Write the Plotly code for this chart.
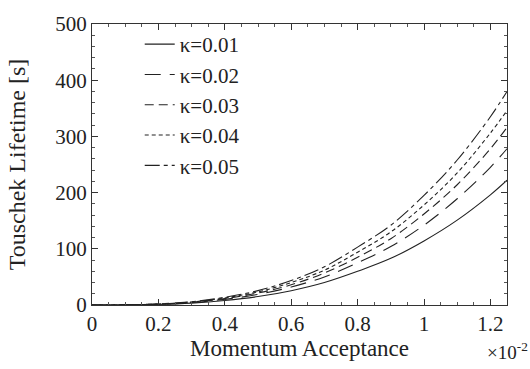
import plotly.graph_objects as go

x_vals = [0, 0.1, 0.2, 0.3, 0.4, 0.5, 0.6, 0.7, 0.8, 0.9, 1.0, 1.1, 1.2, 1.25]
k001 = [0, 0.2, 1.1, 3.4, 8.0, 15.0, 25.5, 40, 60, 83, 114, 151, 196, 222]
k002 = [0, 0.25, 1.4, 4.3, 10.0, 18.8, 32, 50, 75, 104, 142, 189, 245, 278]
k003 = [0, 0.3, 1.6, 4.8, 11.4, 21.3, 36, 57, 85, 118, 162, 214, 278, 316]
k004 = [0, 0.3, 1.7, 5.3, 12.5, 23.4, 40, 62, 94, 130, 178, 235, 306, 346]
k005 = [0, 0.35, 1.9, 5.8, 13.7, 25.6, 43.5, 68, 103, 142, 195, 258, 335, 380]
names = ["κ=0.01", "κ=0.02", "κ=0.03", "κ=0.04", "κ=0.05"]
series = [k001, k002, k003, k004, k005]
dashes = ["solid", "16px,9px", "9px,5px", "4px,3px", "15px,4px,4px,4px"]

fig = go.Figure()
for n, s, d in zip(names, series, dashes):
    fig.add_trace(go.Scatter(x=x_vals, y=s, mode="lines", name=n,
                             line=dict(color="#222222", width=1.1, dash=d, shape="spline")))

font = "Liberation Serif, Times New Roman, serif"
axis_common = dict(showline=True, linecolor="#333333", linewidth=1.2, mirror="allticks",
                   ticks="inside", ticklen=6, tickcolor="#333333", showgrid=False,
                   zeroline=False, tickfont=dict(family=font, size=21, color="#222222"))
fig.update_xaxes(range=[0, 1.25], dtick=0.2, tick0=0,
                 minor=dict(ticks="inside", ticklen=3, dtick=0.05, tickcolor="#555555"),
                 title=dict(text="Momentum Acceptance", font=dict(family=font, size=23, color="#222222"),
                            standoff=1),
                 **axis_common)
fig.update_yaxes(range=[0, 500], dtick=100,
                 minor=dict(ticks="inside", ticklen=3, dtick=20, tickcolor="#555555"),
                 title=dict(text="Touschek Lifetime [s]", font=dict(family=font, size=24, color="#222222"),
                            standoff=22),
                 **axis_common)
fig.add_annotation(text="×10<sup>-2</sup>", xref="paper", yref="paper", x=1.055, y=-0.115,
                   xanchor="right", yanchor="top", showarrow=False,
                   font=dict(family=font, size=19, color="#222222"))
fig.update_layout(width=530, height=369, margin=dict(l=92, r=23, t=14, b=64),
                  plot_bgcolor="white", paper_bgcolor="white",
                  legend=dict(x=0.115, y=1.0, xanchor="left", yanchor="top",
                              bgcolor="rgba(0,0,0,0)", font=dict(family=font, size=21, color="#222222"),
                              itemwidth=30, tracegroupgap=0))
fig.write_html("out.html")
